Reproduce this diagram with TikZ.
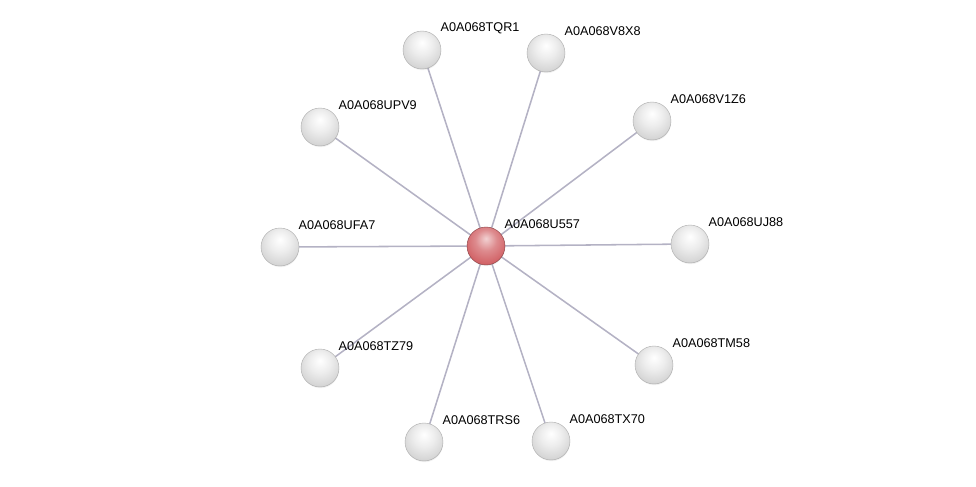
\documentclass[tikz,border=0pt]{standalone}
\usepackage{fontspec}
\setmainfont{Liberation Sans}
\usepackage{tikz}
\usetikzlibrary{shadows, backgrounds}
\definecolor{stringedge}{RGB}{180, 178, 196}
\definecolor{stringred}{RGB}{210, 100, 104}
\pgfdeclareradialshading{graysphere}{\pgfpoint{0bp}{10bp}}{color(0bp)=(white); color(14bp)=(white!93!black);
    color(28bp)=(white!84!black); color(40bp)=(white!72!black); color(50bp)=(white!55!black); color(64bp)=(white!40!black)}
\pgfdeclareradialshading{redsphere}{\pgfpoint{0bp}{10bp}}{color(0bp)=(stringred!30!white); color(14bp)=(stringred!75!white);
    color(28bp)=(stringred); color(40bp)=(stringred!88!black); color(50bp)=(stringred!70!black); color(64bp)=(stringred!55!black)}

\begin{document}
\begin{tikzpicture}[
    x=0.025cm, y=-0.025cm,
    every node/.style={font=\fontsize{9}{11}\selectfont},
    protein/.style={circle, minimum size=0.95cm, inner sep=0pt, shading=graysphere,
        draw=white!68!black, line width=0.3pt,
        circular drop shadow={shadow xshift=0.2pt, shadow yshift=-1pt, opacity=0.25, shadow scale=1.0}},
    hub/.style={protein, shading=redsphere, draw=stringred!65!black},
    lbl/.style={anchor=west, inner sep=1pt},
    link/.style={draw=stringedge, line width=1.1pt}
]
\useasboundingbox (0,0) rectangle (976,487);

% hub protein
\node[hub] (u557) at (486,246) {};
\node[lbl] (u557-l) at (503,224) {A0A068U557};

% partners
\foreach \name/\x/\y/\txt in {tqr1/422/50/A0A068TQR1, v8x8/546/53/A0A068V8X8, v1z6/652/121/A0A068V1Z6,
    upv9/320/127/A0A068UPV9, ufa7/280/247/A0A068UFA7, uj88/690/244/A0A068UJ88,
    tm58/654/365/A0A068TM58, tz79/320/368/A0A068TZ79, trs6/424/442/A0A068TRS6,
    tx70/551/441/A0A068TX70} {
    \node[protein] (\name) at (\x,\y) {};
    \node[lbl] (\name-l) at (\x+17,\y-22) {\txt};
}

% interactions
\begin{scope}[on background layer]
\foreach \name in {tqr1, v8x8, v1z6, upv9, ufa7, uj88, tm58, tz79, trs6, tx70}
    \draw[link] (u557.center) -- (\name.center);
\end{scope}

\end{tikzpicture}
\end{document}
